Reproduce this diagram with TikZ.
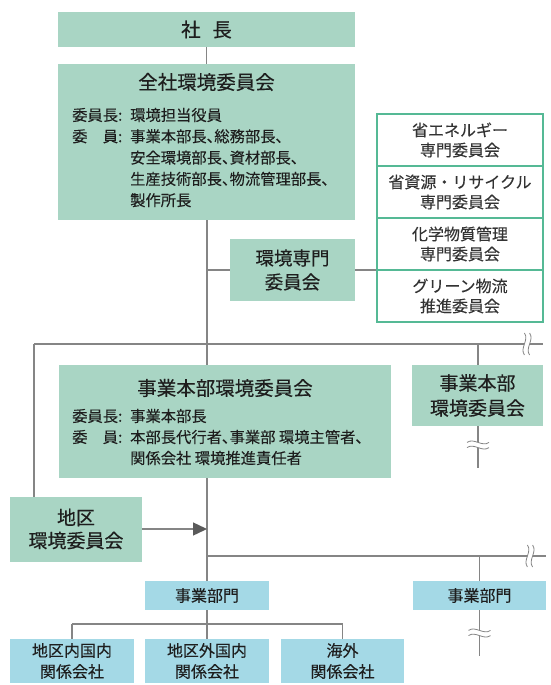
\documentclass[tikz,border=0pt]{standalone}
\usepackage{fontspec}
\setmainfont{Noto Sans CJK JP}[FakeBold=0.15]
\newfontfamily\bodyfont{Noto Sans CJK JP}[RawFeature=+palt,FakeBold=0.15]
\newfontfamily\titlefont{Noto Sans CJK JP}[FakeBold=0.35]
\usetikzlibrary{arrows.meta,backgrounds}
\definecolor{gfill}{HTML}{A9D5C4}
\definecolor{bfill}{HTML}{A4D9E6}
\definecolor{sideline}{HTML}{55B995}
\definecolor{conn}{HTML}{858585}
\definecolor{arrowc}{HTML}{5A5A5A}
\definecolor{txt}{HTML}{1E1E1E}
\definecolor{txtg}{HTML}{333333}
\tikzset{
  box/.style={inner sep=0pt, outer sep=0pt, align=center, text=txt},
  gbox/.style={box, fill=gfill},
  bbox/.style={box, fill=bfill, font=\fontsize{16}{21}\selectfont},
  sbox/.style={box, draw=sideline, line width=1.5pt, fill=white, text=txtg,
    minimum width=166pt, minimum height=52pt, font=\fontsize{16}{20}\selectfont},
  ttl/.style={inner sep=0pt, text=txt, font=\titlefont\fontsize{19.5}{23}\selectfont},
  lbl/.style={inner sep=0pt, anchor=west, text=txt, font=\bodyfont\fontsize{15.3}{18}\selectfont},
  cline/.style={draw=conn, line width=1.4pt},
  arr/.style={draw=conn, line width=1.4pt, -{Triangle[length=14pt,width=13pt,color=arrowc,fill=arrowc]}},
  brk/.pic={
    \fill[white] (-2.6,-11) .. controls (2.4,-4) and (-7.6,4) .. (-2.6,11) -- (2.6,11) .. controls (-2.4,4) and (7.6,-4) .. (2.6,-11) -- cycle;
    \draw[conn, line width=0.8pt] (-2.6,-11) .. controls (2.4,-4) and (-7.6,4) .. (-2.6,11);
    \draw[conn, line width=0.8pt] (2.6,-11) .. controls (7.6,-4) and (-2.4,4) .. (2.6,11);
  }
}
\begin{document}
\begin{tikzpicture}[x=1pt,y=-1pt]
\useasboundingbox (0,0) rectangle (550,685);

% top
\node[gbox, minimum width=297pt, minimum height=35pt, font=\titlefont\fontsize{19.5}{23}\selectfont] (pres) at (206.5,29.5) {社\hspace{0.6em}長};

\node[gbox, minimum width=297pt, minimum height=156pt] (zensha) at (206.5,142) {};
\node[ttl] (zt) at (206.5,82) {全社環境委員会};
\node[lbl] (z1a) at (72,115) {委員長:};
\node[lbl] (z1b) at (130,115) {環境担当役員};
\node[lbl] (z2a) at (72,136.3) {委\hspace{1em}員:};
\node[lbl] (z2b) at (130,136.3) {事業本部長、総務部長、};
\node[lbl] (z3b) at (130,157.6) {安全環境部長、資材部長、};
\node[lbl] (z4b) at (130,178.9) {生産技術部長、物流管理部長、};
\node[lbl] (z5b) at (130,200.2) {製作所長};

\node[gbox, minimum width=125pt, minimum height=62pt, font=\titlefont\fontsize{18.5}{24}\selectfont] (senmon) at (292.5,270) {環境専門\\委員会};

\node[sbox] (side1) at (460,140) {省エネルギー\\専門委員会};
\node[sbox] (side2) at (460,192) {省資源・リサイクル\\専門委員会};
\node[sbox] (side3) at (460,244) {化学物質管理\\専門委員会};
\node[sbox] (side4) at (460,296) {グリーン物流\\推進委員会};

% middle
\node[gbox, minimum width=332pt, minimum height=113pt] (hqmain) at (225,421.5) {};
\node[ttl] (ht) at (225,388) {事業本部環境委員会};
\node[lbl] (h1a) at (72,416) {委員長:};
\node[lbl] (h1b) at (130,416) {事業本部長};
\node[lbl] (h2a) at (72,437) {委\hspace{1em}員:};
\node[lbl] (h2b) at (130,437) {本部長代行者、事業部 環境主管者、};
\node[lbl] (h3b) at (130,458) {関係会社 環境推進責任者};

\node[gbox, minimum width=131pt, minimum height=61pt, font=\titlefont\fontsize{19}{25}\selectfont] (hq2) at (477.5,395.5) {事業本部\\環境委員会};

\node[gbox, minimum width=132pt, minimum height=65pt, font=\titlefont\fontsize{19}{23}\selectfont] (chiku) at (76,529) {地区\\環境委員会};

% bottom
\node[bbox, minimum width=124pt, minimum height=29pt] (bumon1) at (207,595.5) {事業部門};
\node[bbox, minimum width=133pt, minimum height=29pt] (bumon2) at (479.5,595.5) {事業部門};
\node[bbox, minimum width=124pt, minimum height=44pt] (sub1) at (72,661) {地区内国内\\関係会社};
\node[bbox, minimum width=124pt, minimum height=44pt] (sub2) at (207,661) {地区外国内\\関係会社};
\node[bbox, minimum width=123pt, minimum height=44pt] (sub3) at (342.5,661) {海外\\関係会社};

% junctions
\coordinate (jA) at (207,344);
\coordinate (jL) at (34,344);
\coordinate (jE) at (543,344);
\coordinate (jR) at (478,344);
\coordinate (hq2end) at (478,468);
\coordinate (jB) at (207,556);
\coordinate (jBE) at (546,556);
\coordinate (jBR) at (479.5,556);
\coordinate (b2end) at (479.5,656);
\coordinate (jC) at (207,624);
\coordinate (jCL) at (72,624);
\coordinate (jCR) at (342.5,624);

\begin{pgfonlayer}{background}
\draw[cline] (pres.south) -- (zensha.north);
\draw[cline] (zensha.south -| jA) -- (hqmain.north -| jA);
\draw[cline] (jA |- senmon.center) -- (side3.south west);
\draw[cline] (jL) -- (jE);
\draw[cline] (jL) -- (chiku.north -| jL);
\draw[cline] (jR) -- (hq2.north -| jR);
\draw[cline] (hq2.south -| jR) -- (hq2end);
\draw[cline] (hqmain.south -| jA) -- (bumon1.north);
\draw[arr] (chiku.east) -- (chiku.east -| jA);
\draw[cline] (jB) -- (jBE);
\draw[cline] (jBR) -- (bumon2.north);
\draw[cline] (bumon2.south) -- (b2end);
\draw[cline] (bumon1.south) -- (jC);
\draw[cline] (jCL) -- (jCR);
\draw[cline] (jCL) -- (sub1.north);
\draw[cline] (jC) -- (sub2.north);
\draw[cline] (jCR) -- (sub3.north);
\end{pgfonlayer}

% break marks
\pic at (527,344) {brk};
\pic[rotate=90] at (478,445) {brk};
\pic at (530,556) {brk};
\pic[rotate=90] at (479.5,633) {brk};
\end{tikzpicture}
\end{document}
